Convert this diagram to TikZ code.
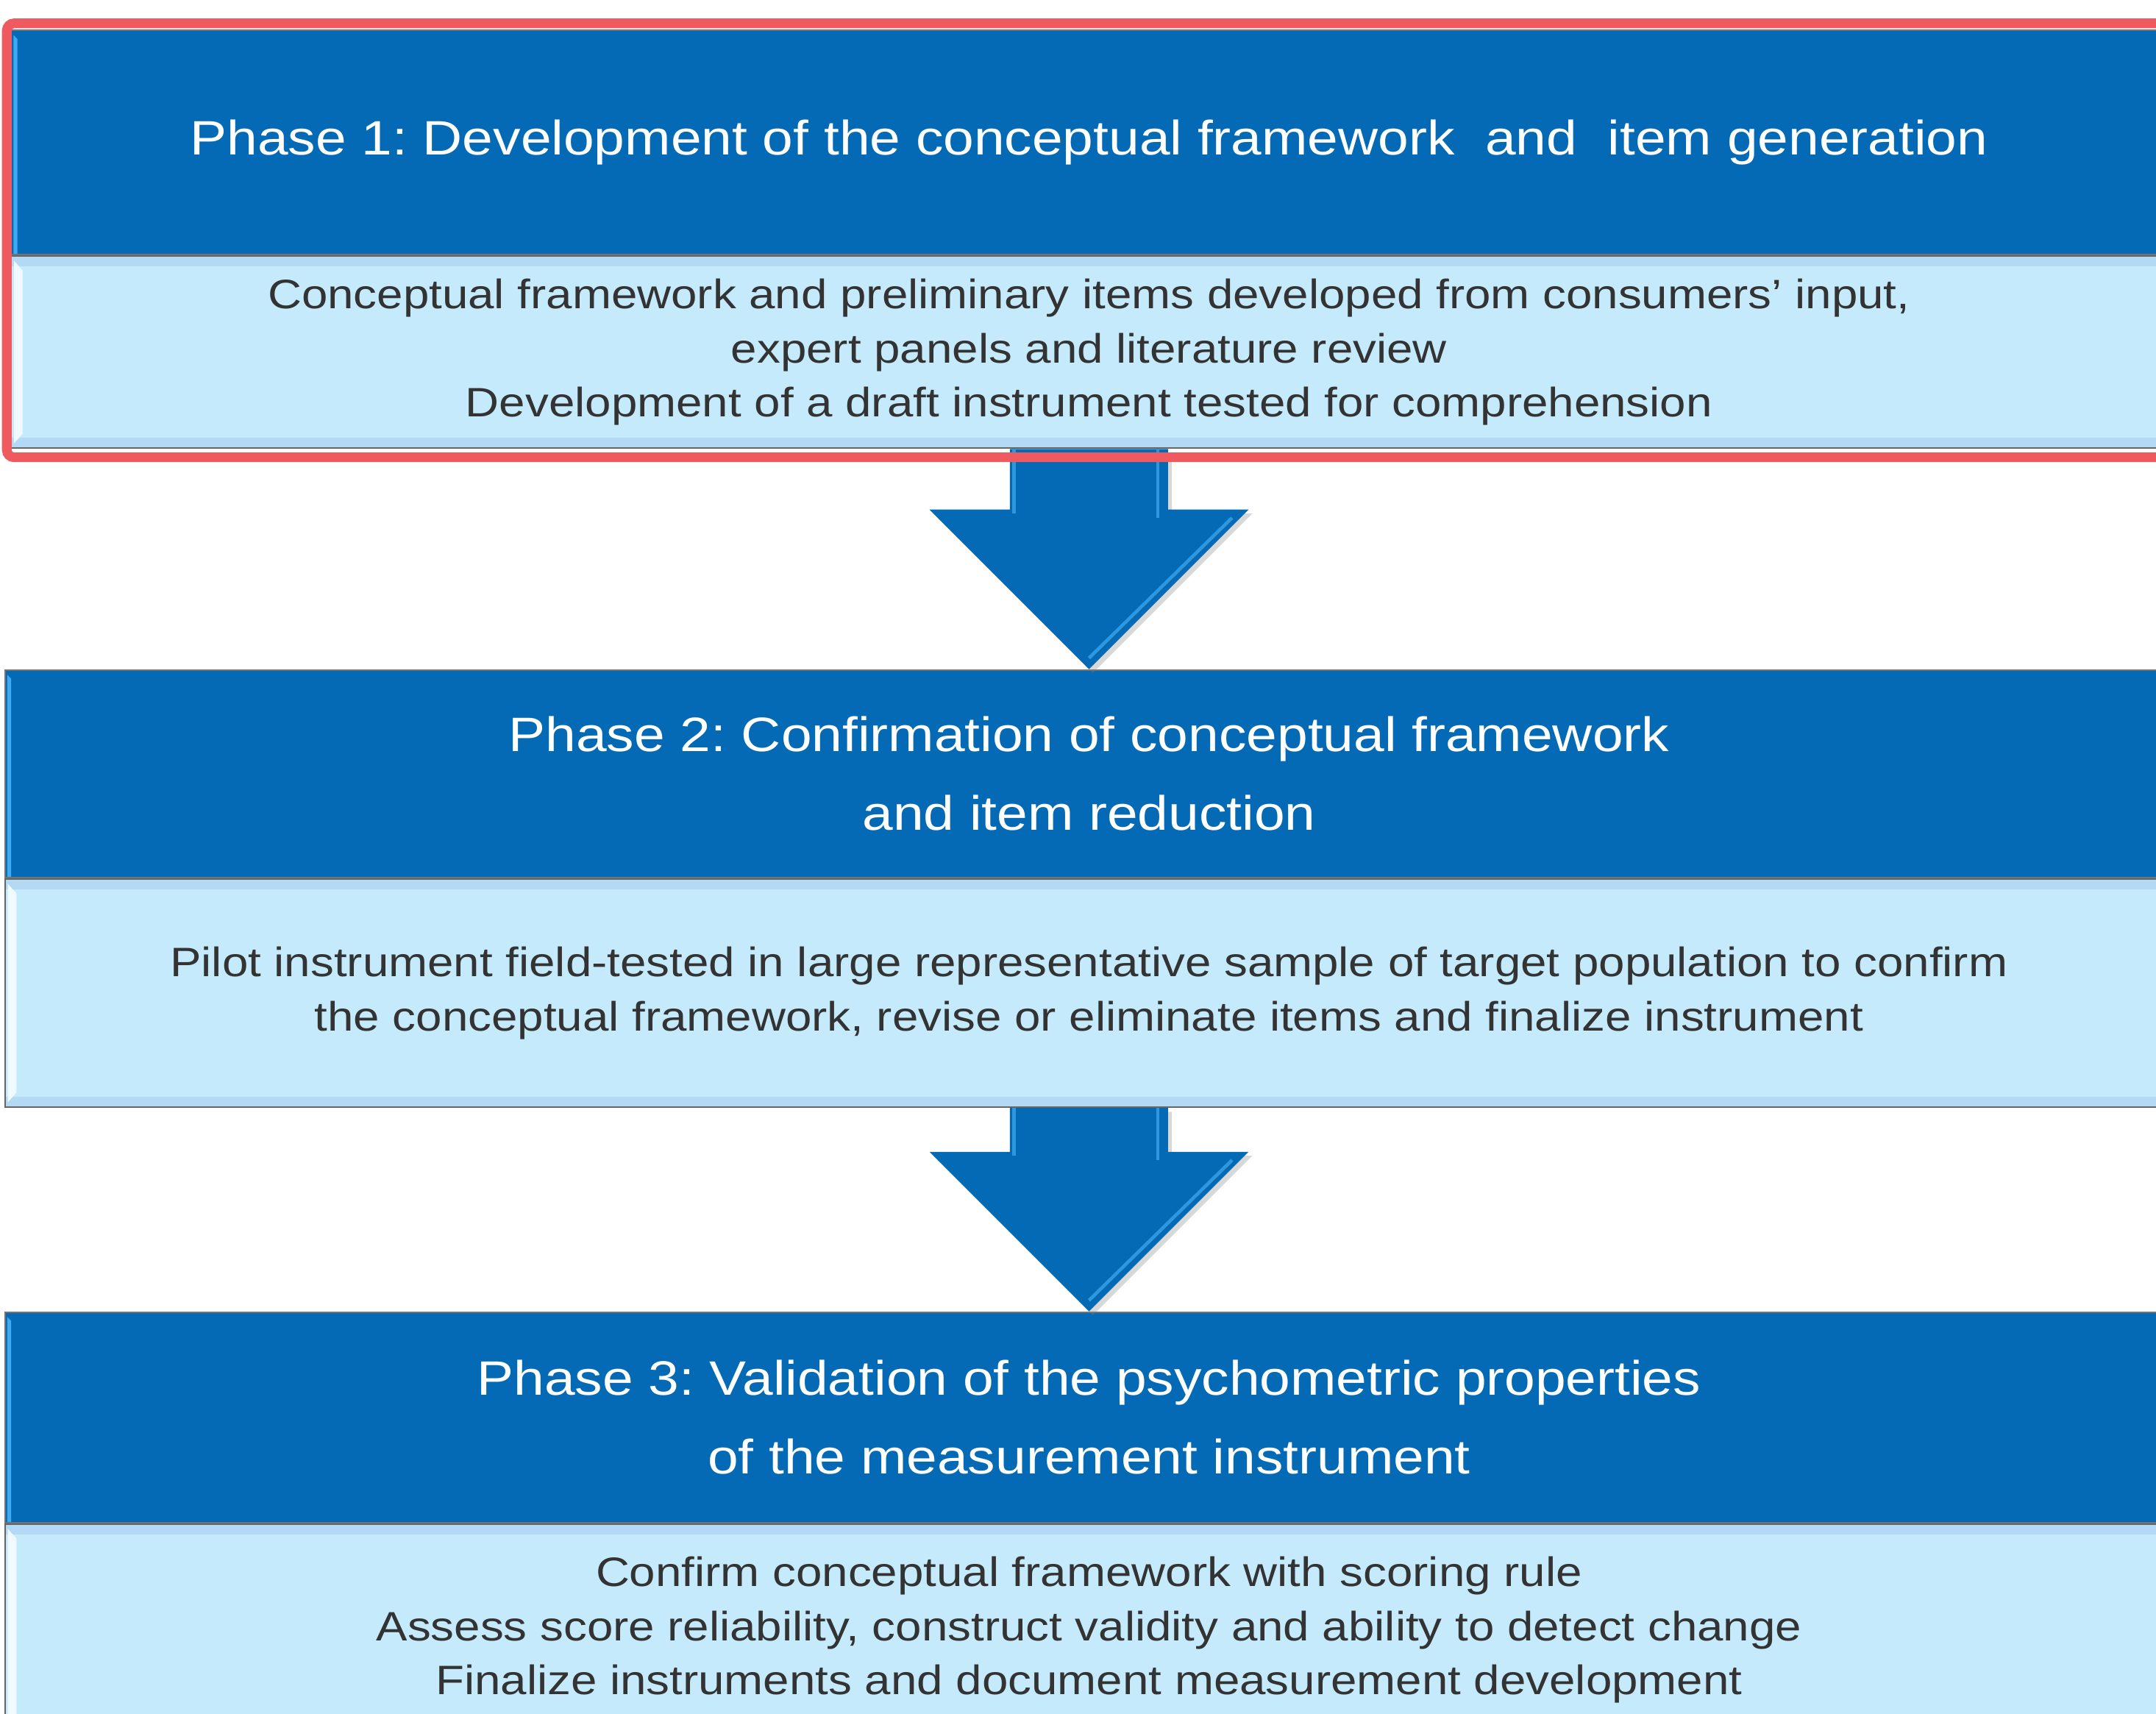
\documentclass[tikz,border=0pt]{standalone}
\usepackage{fontspec}
\setmainfont{Liberation Sans}[FakeStretch=1.14]
\usepackage{tikz}
\usetikzlibrary{calc, positioning, shadows}
\frenchspacing

\definecolor{headblue}{HTML}{056AB5}
\definecolor{headedge}{HTML}{3FAAF0}
\definecolor{bodyfill}{HTML}{C4EAFC}
\definecolor{bodyedge}{HTML}{B3D9F5}
\definecolor{bodytext}{HTML}{333333}
\definecolor{frame}{HTML}{EE5A60}

\tikzset{
    phasehead/.style={rectangle, fill=headblue, draw=black!55, line width=0.3pt,
        text=white, align=center, inner sep=0pt,
        font=\fontsize{10}{16.2}\selectfont,
        minimum width=157.7mm,
        path picture={
            \fill[headedge] ([xshift=0.5pt,yshift=-1pt]path picture bounding box.north west)
                -- ([xshift=1.3pt,yshift=-1.8pt]path picture bounding box.north west)
                -- ([xshift=1.3pt]path picture bounding box.south west)
                -- ([xshift=0.5pt]path picture bounding box.south west) -- cycle;
        }},
    phasebody/.style={rectangle, fill=bodyfill, draw=black!60, line width=0.3pt,
        text=bodytext, align=center, inner sep=0pt,
        font=\fontsize{8.5}{11.2}\selectfont,
        minimum width=157.7mm,
        path picture={
            \fill[bodyedge] (path picture bounding box.north west) rectangle ([yshift=-2.2pt]path picture bounding box.north east);
            \fill[bodyedge] (path picture bounding box.south west) rectangle ([yshift=2.2pt]path picture bounding box.south east);
            \fill[white!75!bodyfill] ([xshift=0.6pt,yshift=-1pt]path picture bounding box.north west)
                -- ([xshift=2.4pt,yshift=-3pt]path picture bounding box.north west)
                -- ([xshift=2.4pt,yshift=3pt]path picture bounding box.south west)
                -- ([xshift=0.6pt,yshift=1pt]path picture bounding box.south west) -- cycle;
        }},
    phasearrow/.style={fill=headblue, drop shadow={opacity=.3, shadow xshift=.8pt, shadow yshift=-.8pt}},
    arrowedge/.style={headedge!70!headblue, line width=0.7pt},
    redframe/.style={draw=frame, line width=2pt, rounded corners=1.5pt},
}

% block arrow from the bottom of one phase to the top of the next
\newcommand\phasearrow[2]{%
    \path[phasearrow] ($(#1.south)+(-57.5,0)$) -- ($(#2.north)+(-57.5,-116)$)
        -- ($(#2.north)+(-116,-116)$) -- (#2.north) -- ($(#2.north)+(116,-116)$)
        -- ($(#2.north)+(57.5,-116)$) -- ($(#1.south)+(57.5,0)$) -- cycle;
    \draw[arrowedge] ($(#1.south)+(-54.5,0)$) -- ($(#2.north)+(-54.5,-113)$);
    \draw[arrowedge] ($(#1.south)+(50,0)$) -- ($(#2.north)+(50,-110)$);
    \draw[arrowedge] ($(#2.north)+(104,-110)$) -- ($(#2.north)+(0,-8)$);
}

\begin{document}
\begin{tikzpicture}[x=0.1mm, y=-0.1mm]
    \useasboundingbox[fill=white] (0,0) rectangle (1568,1246);

    % phase 1
    \node[phasehead, minimum width=156.8mm, minimum height=16.3mm] (p1head) at (792,103.5)
        {Phase 1: Development of the conceptual framework\ \ and\ \ item generation};
    \node[phasebody, minimum width=156.8mm, minimum height=14mm, below=0pt of p1head] (p1body)
        {Conceptual framework and preliminary items developed from consumers’ input,\\
         expert panels and literature review\\
         Development of a draft instrument tested for comprehension};

    % phase 2
    \node[phasehead, minimum height=15.1mm, below=16mm of p1body] (p2head)
        {Phase 2: Confirmation of conceptual framework\\ and item reduction};
    \node[phasebody, minimum height=16.6mm, below=0pt of p2head] (p2body)
        {Pilot instrument field-tested in large representative sample of target population to confirm\\
         the conceptual framework, revise or eliminate items and finalize instrument};

    % phase 3
    \node[phasehead, minimum height=15.3mm, below=14.8mm of p2body] (p3head)
        {Phase 3: Validation of the psychometric properties\\ of the measurement instrument};
    \node[phasebody, minimum height=15.4mm, below=0pt of p3head] (p3body)
        {Confirm conceptual framework with scoring rule\\
         Assess score reliability, construct validity and ability to detect change\\
         Finalize instruments and document measurement development};

    \phasearrow{p1body}{p2head}
    \phasearrow{p2body}{p3head}

    % highlight round phase 1
    \draw[redframe] ($(p1head.north west)+(-2.5,-4.5)$) rectangle ($(p1body.south east)+(3,6)$);
\end{tikzpicture}
\end{document}
